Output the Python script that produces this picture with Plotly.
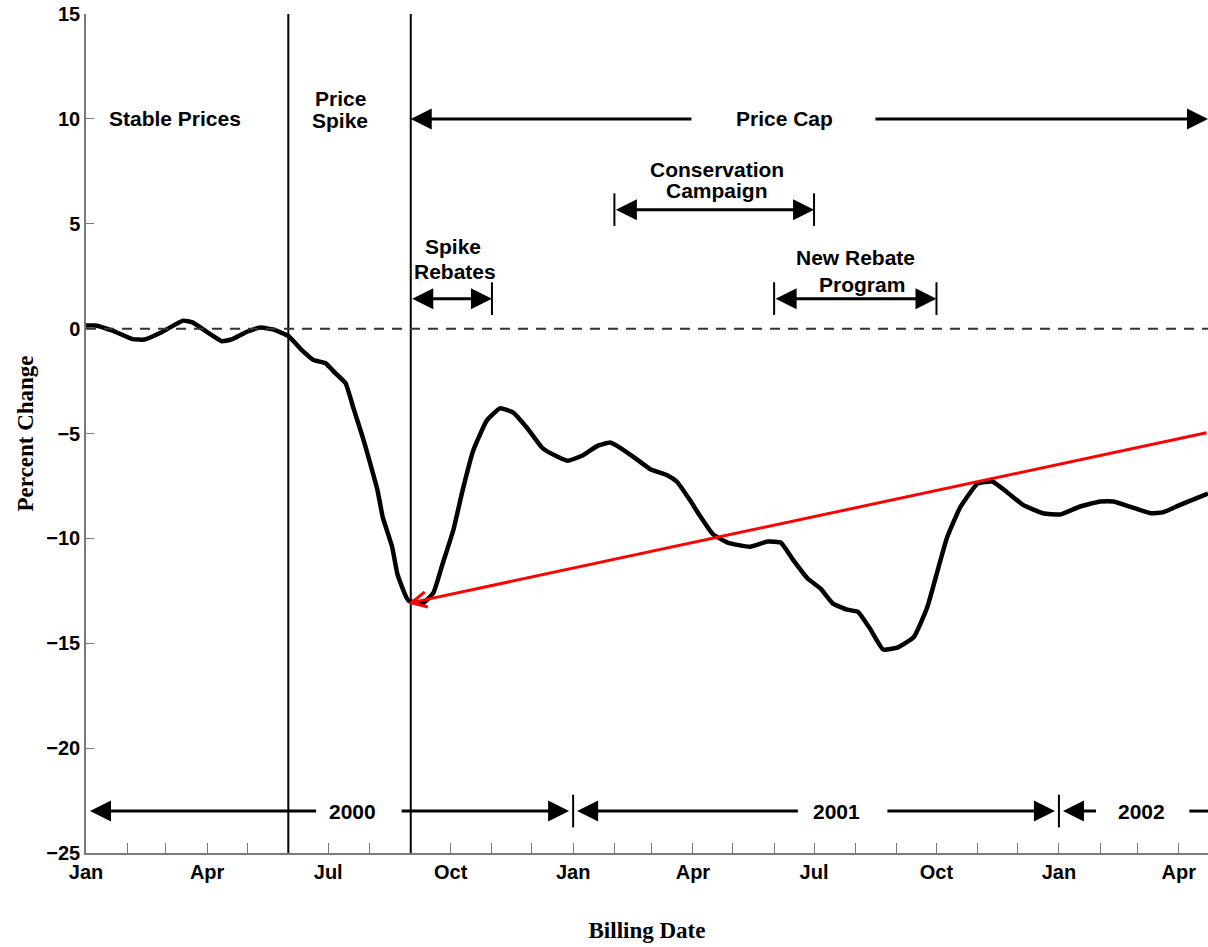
import plotly.graph_objects as go

# Percent change in electricity consumption by billing date
bill_dates = [
    "2000-01-01", "2000-01-08", "2000-01-21", "2000-02-05", "2000-02-14", "2000-02-26",
    "2000-03-14", "2000-03-21", "2000-04-03", "2000-04-12", "2000-04-20", "2000-05-01",
    "2000-05-11", "2000-05-21", "2000-06-01", "2000-06-10", "2000-06-20", "2000-06-29",
    "2000-07-06", "2000-07-14", "2000-07-20", "2000-07-27", "2000-08-01", "2000-08-07",
    "2000-08-11", "2000-08-18", "2000-08-22", "2000-08-30", "2000-09-10", "2000-09-18",
    "2000-09-25", "2000-10-03", "2000-10-10", "2000-10-18", "2000-10-28", "2000-11-07",
    "2000-11-17", "2000-11-27", "2000-12-09", "2000-12-20", "2000-12-28", "2001-01-08",
    "2001-01-19", "2001-01-29", "2001-02-05", "2001-02-15", "2001-02-28", "2001-03-13",
    "2001-03-20", "2001-03-30", "2001-04-06", "2001-04-16", "2001-04-27", "2001-05-14",
    "2001-05-27", "2001-06-06", "2001-06-15", "2001-06-26", "2001-07-06", "2001-07-15",
    "2001-07-26", "2001-08-03", "2001-08-12", "2001-08-22", "2001-09-02", "2001-09-14",
    "2001-09-24", "2001-10-02", "2001-10-09", "2001-10-19", "2001-11-01", "2001-11-12",
    "2001-11-23", "2001-12-05", "2001-12-20", "2002-01-02", "2002-01-17", "2002-02-01",
    "2002-02-11", "2002-02-24", "2002-03-11", "2002-03-20", "2002-04-02", "2002-04-23",
]
pct_change = [
    0.15, 0.15, -0.1, -0.5, -0.52, -0.2,
    0.38, 0.3, -0.25, -0.6, -0.5, -0.15,
    0.05, -0.05, -0.35, -0.95, -1.5, -1.65,
    -2.1, -2.6, -3.8, -5.2, -6.3, -7.7,
    -9.0, -10.4, -11.7, -12.95, -13.1, -12.6,
    -11.2, -9.6, -7.7, -5.8, -4.4, -3.8,
    -4.0, -4.7, -5.7, -6.1, -6.3, -6.05,
    -5.6, -5.43, -5.67, -6.1, -6.7, -7.0,
    -7.3, -8.2, -8.9, -9.8, -10.2, -10.4,
    -10.15, -10.2, -11.0, -11.9, -12.4, -13.1,
    -13.4, -13.5, -14.3, -15.3, -15.2, -14.7,
    -13.3, -11.5, -9.95, -8.5, -7.38, -7.29,
    -7.8, -8.4, -8.8, -8.86, -8.48, -8.24,
    -8.24, -8.5, -8.8, -8.76, -8.4, -7.86,
]

# Trend arrow from the post-spike trough
trend_dates = ["2000-08-30", "2002-04-23"]
trend_values = [-13.1, -4.95]

# Period boundaries
spike_start = "2000-06-01"
cap_start = "2000-09-01"
spike_rebates = ["2000-09-01", "2000-11-01"]
conservation = ["2001-02-01", "2001-07-01"]
new_rebate = ["2001-06-01", "2001-10-01"]
year_starts = ["2001-01-01", "2002-01-01"]

x_range = ["2000-01-01", "2002-04-23"]
y_range = [-25, 15]

LABEL_FONT = dict(family="Liberation Sans", size=21, color="black", weight="bold")
AXIS_GRAY = "#7a7a7a"

fig = go.Figure()

fig.add_trace(go.Scatter(
    x=bill_dates, y=pct_change, mode="lines",
    line=dict(color="black", width=4.5, shape="spline", smoothing=0.4),
    showlegend=False, hoverinfo="x+y",
))

# Period dividers and zero reference
for d in (spike_start, cap_start):
    fig.add_shape(type="line", xref="x", yref="paper", x0=d, x1=d, y0=0, y1=1,
                  line=dict(color="black", width=2))
fig.add_shape(type="line", xref="paper", yref="y", x0=0, x1=1, y0=0, y1=0,
              line=dict(color="#333333", width=2, dash="10px,8px"))

annotations = []
HEAD = dict(arrowhead=2, arrowsize=1.4, arrowwidth=3, arrowcolor="black")


def arrow(tip, tail, y, both=False):
    a = dict(x=tip, y=y, ax=tail, ay=y, xref="x", yref="y", axref="x", ayref="y",
             text="", showarrow=True, **HEAD)
    if both:
        a.update(arrowside="end+start", startarrowhead=2, startarrowsize=1.4)
    annotations.append(a)


def line_seg(x0, x1, y):
    fig.add_shape(type="line", xref="x", yref="y", x0=x0, x1=x1, y0=y, y1=y,
                  line=dict(color="black", width=3))


def end_bar(x, yc, half):
    fig.add_shape(type="line", xref="x", yref="y", x0=x, x1=x, y0=yc - half, y1=yc + half,
                  line=dict(color="black", width=2))


def label(x, y, text, size=21):
    annotations.append(dict(x=x, y=y, xref="x", yref="y", text=text, showarrow=False,
                            font=dict(LABEL_FONT, size=size)))


# Price cap span
arrow(cap_start, "2001-04-01", 10)
arrow(x_range[1], "2001-08-15", 10)
label("2001-06-09", 10, "Price Cap")

# Campaign and rebate spans
arrow(conservation[1], conservation[0], 5.67, both=True)
for d in conservation:
    end_bar(d, 5.67, 0.78)
arrow(spike_rebates[1], spike_rebates[0], 1.43, both=True)
end_bar(spike_rebates[1], 1.43, 0.78)
arrow(new_rebate[1], new_rebate[0], 1.43, both=True)
for d in new_rebate:
    end_bar(d, 1.43, 0.78)

label("2000-03-08", 10, "Stable Prices")
label("2000-07-10", 10.95, "Price")
label("2000-07-10", 9.9, "Spike")
label("2001-04-19", 7.57, "Conservation")
label("2001-04-19", 6.57, "Campaign")
label("2000-10-03", 3.9, "Spike")
label("2000-10-04", 2.71, "Rebates")
label("2001-08-01", 3.38, "New Rebate")
label("2001-08-06", 2.1, "Program")

# Calendar year spans
arrow("2000-01-04", "2000-06-23", -23)
arrow("2000-12-29", "2000-08-24", -23)
label("2000-07-19", -23, "2000")
arrow("2001-01-04", "2001-06-20", -23)
arrow("2001-12-29", "2001-08-24", -23)
label("2001-07-18", -23, "2001")
arrow("2002-01-04", "2002-01-30", -23)
line_seg("2002-04-09", x_range[1], -23)
label("2002-03-04", -23, "2002")
for d in year_starts:
    end_bar(d, -23, 0.78)

# Trend arrow
annotations.append(dict(
    x=trend_dates[0], y=trend_values[0], ax=trend_dates[1], ay=trend_values[1],
    xref="x", yref="y", axref="x", ayref="y", text="", showarrow=True,
    arrowhead=5, arrowsize=1.0, arrowwidth=3, arrowcolor="#ff0000",
))

fig.update_layout(
    width=1208, height=947,
    margin=dict(l=86, r=0, t=14, b=94),
    plot_bgcolor="white", paper_bgcolor="white",
    showlegend=False,
    annotations=annotations,
    xaxis=dict(
        type="date", range=x_range,
        tick0="2000-01-01", dtick="M3", tickformat="%b",
        ticks="inside", ticklen=10, tickwidth=1.2, tickcolor=AXIS_GRAY,
        minor=dict(dtick="M1", ticks="inside", ticklen=10, tickwidth=1.2, tickcolor=AXIS_GRAY),
        showline=True, linecolor=AXIS_GRAY, linewidth=1.5,
        showgrid=False, zeroline=False,
        tickfont=dict(family="Liberation Sans", size=20, color="black", weight="bold"),
        title=dict(text="Billing Date", standoff=40,
                   font=dict(family="Liberation Serif", size=23, color="black", weight="bold")),
    ),
    yaxis=dict(
        range=y_range, tick0=-25, dtick=5,
        ticks="inside", ticklen=8, tickwidth=1.2, tickcolor=AXIS_GRAY,
        showline=True, linecolor=AXIS_GRAY, linewidth=1.5,
        showgrid=False, zeroline=False,
        tickfont=dict(family="Liberation Sans", size=20, color="black", weight="bold"),
        title=dict(text="Percent Change", standoff=6,
                   font=dict(family="Liberation Serif", size=23, color="black", weight="bold")),
    ),
)

fig.write_html("out.html")
